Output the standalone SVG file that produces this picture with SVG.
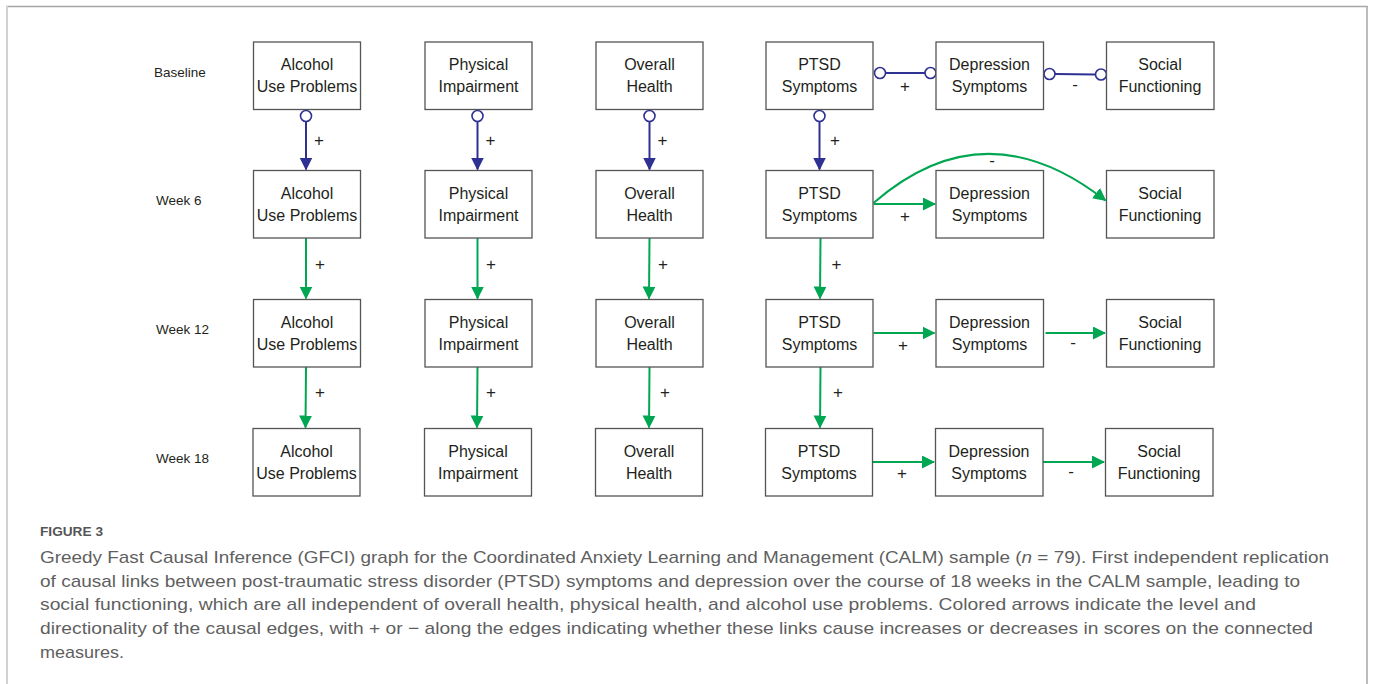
<svg xmlns="http://www.w3.org/2000/svg" width="1373" height="684" viewBox="0 0 1373 684">
<style>
.box{fill:#fff;stroke:#555;stroke-width:1.3}
.nt{font-family:"Liberation Sans",Arial,sans-serif;font-size:16px;fill:#231f20;text-anchor:middle}
.rl{font-family:"Liberation Sans",Arial,sans-serif;font-size:13.5px;fill:#231f20}
.lb{font-family:"Liberation Sans",Arial,sans-serif;font-size:17px;fill:#231f20;text-anchor:middle}
.g{fill:none;stroke:#00a651;stroke-width:2}
.b{fill:none;stroke:#2e3192;stroke-width:2}
.oc{fill:#fff;stroke:#2e3192;stroke-width:1.6}
.cap{font-family:"Liberation Sans",Arial,sans-serif;font-size:17px;fill:#5f5f5f}
.fig{font-family:"Liberation Sans",Arial,sans-serif;font-size:13px;font-weight:bold;fill:#555}
</style>
<defs>
<marker id="ag" markerUnits="userSpaceOnUse" markerWidth="14" markerHeight="14" viewBox="0 0 14 14" refX="12" refY="6.5" orient="auto"><path d="M0,0 L13,6.5 L0,13 z" fill="#00a651"/></marker>
<marker id="ab" markerUnits="userSpaceOnUse" markerWidth="14" markerHeight="14" viewBox="0 0 14 14" refX="12" refY="6.5" orient="auto"><path d="M0,0 L13,6.5 L0,13 z" fill="#2e3192"/></marker>
</defs>
<rect width="1373" height="684" fill="#fff"/>
<g id="frame">
<line x1="6" y1="6.5" x2="1367.5" y2="6.5" stroke="#a6a6a6" stroke-width="1.5"/>
<line x1="7" y1="6" x2="7" y2="684" stroke="#d2d2d2" stroke-width="2"/>
<line x1="1367" y1="6" x2="1367" y2="684" stroke="#a6a6a6" stroke-width="1.5"/>
</g>
<g id="row-labels">
<text class="rl" x="154" y="76.5">Baseline</text>
<text class="rl" x="156" y="205">Week 6</text>
<text class="rl" x="156" y="334">Week 12</text>
<text class="rl" x="156" y="462.5">Week 18</text>
</g>
<g id="connectors">
<line class="b" x1="306" y1="121.5" x2="306" y2="169.5" marker-end="url(#ab)"/>
<circle class="oc" cx="306" cy="116" r="5.5"/>
<line class="b" x1="477.5" y1="121.5" x2="477.5" y2="169.5" marker-end="url(#ab)"/>
<circle class="oc" cx="477.5" cy="116" r="5.5"/>
<line class="b" x1="649.5" y1="121.5" x2="649.5" y2="169.5" marker-end="url(#ab)"/>
<circle class="oc" cx="649.5" cy="116" r="5.5"/>
<line class="b" x1="819.5" y1="121.5" x2="819.5" y2="169.5" marker-end="url(#ab)"/>
<circle class="oc" cx="819.5" cy="116" r="5.5"/>
<text class="lb" x="319" y="146">+</text>
<text class="lb" x="490.5" y="146">+</text>
<text class="lb" x="662.5" y="146">+</text>
<text class="lb" x="835" y="146">+</text>
<line class="b" x1="885.5" y1="73" x2="925" y2="73"/>
<circle class="oc" cx="880" cy="73" r="5.5"/>
<circle class="oc" cx="930.5" cy="73" r="5.5"/>
<text class="lb" x="905" y="92">+</text>
<line class="b" x1="1055" y1="74" x2="1095.5" y2="74.5"/>
<circle class="oc" cx="1049.5" cy="74" r="5.5"/>
<circle class="oc" cx="1101" cy="74.5" r="5.5"/>
<text class="lb" x="1075" y="90">-</text>
<line class="g" x1="306" y1="238" x2="306" y2="298.5" marker-end="url(#ag)"/>
<line class="g" x1="477.5" y1="238" x2="477.5" y2="298.5" marker-end="url(#ag)"/>
<line class="g" x1="649.5" y1="238" x2="649" y2="298.5" marker-end="url(#ag)"/>
<line class="g" x1="820.5" y1="238" x2="820" y2="298.5" marker-end="url(#ag)"/>
<text class="lb" x="320" y="270">+</text>
<text class="lb" x="491" y="270">+</text>
<text class="lb" x="663" y="270">+</text>
<text class="lb" x="836.5" y="270">+</text>
<line class="g" x1="306" y1="367" x2="305.5" y2="427.5" marker-end="url(#ag)"/>
<line class="g" x1="477.5" y1="367" x2="477" y2="427.5" marker-end="url(#ag)"/>
<line class="g" x1="649.5" y1="367" x2="649" y2="427.5" marker-end="url(#ag)"/>
<line class="g" x1="820.5" y1="367" x2="820" y2="427.5" marker-end="url(#ag)"/>
<text class="lb" x="320" y="398">+</text>
<text class="lb" x="491" y="398">+</text>
<text class="lb" x="665" y="398">+</text>
<text class="lb" x="838" y="398">+</text>
<line class="g" x1="873.5" y1="204" x2="935" y2="204" marker-end="url(#ag)"/>
<text class="lb" x="905" y="222">+</text>
<path class="g" d="M873.5,203 Q985,106 1105.5,200.5" marker-end="url(#ag)"/>
<text class="lb" x="992" y="166">-</text>
<line class="g" x1="873.5" y1="333" x2="934.5" y2="333" marker-end="url(#ag)"/>
<text class="lb" x="903" y="351">+</text>
<line class="g" x1="1045.5" y1="333" x2="1105" y2="333" marker-end="url(#ag)"/>
<text class="lb" x="1073" y="348">-</text>
<line class="g" x1="872.5" y1="462" x2="934" y2="462" marker-end="url(#ag)"/>
<text class="lb" x="902" y="479">+</text>
<line class="g" x1="1043" y1="462" x2="1104" y2="462" marker-end="url(#ag)"/>
<text class="lb" x="1071" y="477">-</text>
</g>
<g id="n-alc-0"><rect class="box" x="253.5" y="42" width="107" height="67.5"/><text class="nt" x="307" y="70">Alcohol</text><text class="nt" x="307" y="92">Use Problems</text></g>
<g id="n-phy-0"><rect class="box" x="425" y="42" width="107" height="67.5"/><text class="nt" x="478.5" y="70">Physical</text><text class="nt" x="478.5" y="92">Impairment</text></g>
<g id="n-ovh-0"><rect class="box" x="596" y="42" width="107" height="67.5"/><text class="nt" x="649.5" y="70">Overall</text><text class="nt" x="649.5" y="92">Health</text></g>
<g id="n-ptsd-0"><rect class="box" x="766" y="42" width="107" height="67.5"/><text class="nt" x="819.5" y="70">PTSD</text><text class="nt" x="819.5" y="92">Symptoms</text></g>
<g id="n-dep-0"><rect class="box" x="936" y="42" width="107.5" height="67.5"/><text class="nt" x="989.5" y="70">Depression</text><text class="nt" x="989.5" y="92">Symptoms</text></g>
<g id="n-soc-0"><rect class="box" x="1106.5" y="42" width="107.5" height="67.5"/><text class="nt" x="1160" y="70">Social</text><text class="nt" x="1160" y="92">Functioning</text></g>
<g id="n-alc-6"><rect class="box" x="253.5" y="170.5" width="107" height="67.5"/><text class="nt" x="307" y="198.5">Alcohol</text><text class="nt" x="307" y="220.5">Use Problems</text></g>
<g id="n-phy-6"><rect class="box" x="425" y="170.5" width="107" height="67.5"/><text class="nt" x="478.5" y="198.5">Physical</text><text class="nt" x="478.5" y="220.5">Impairment</text></g>
<g id="n-ovh-6"><rect class="box" x="596" y="170.5" width="107" height="67.5"/><text class="nt" x="649.5" y="198.5">Overall</text><text class="nt" x="649.5" y="220.5">Health</text></g>
<g id="n-ptsd-6"><rect class="box" x="766" y="170.5" width="107" height="67.5"/><text class="nt" x="819.5" y="198.5">PTSD</text><text class="nt" x="819.5" y="220.5">Symptoms</text></g>
<g id="n-dep-6"><rect class="box" x="936" y="170.5" width="107.5" height="67.5"/><text class="nt" x="989.5" y="198.5">Depression</text><text class="nt" x="989.5" y="220.5">Symptoms</text></g>
<g id="n-soc-6"><rect class="box" x="1106.5" y="170.5" width="107.5" height="67.5"/><text class="nt" x="1160" y="198.5">Social</text><text class="nt" x="1160" y="220.5">Functioning</text></g>
<g id="n-alc-12"><rect class="box" x="253.5" y="299.5" width="107" height="67.5"/><text class="nt" x="307" y="327.5">Alcohol</text><text class="nt" x="307" y="349.5">Use Problems</text></g>
<g id="n-phy-12"><rect class="box" x="425" y="299.5" width="107" height="67.5"/><text class="nt" x="478.5" y="327.5">Physical</text><text class="nt" x="478.5" y="349.5">Impairment</text></g>
<g id="n-ovh-12"><rect class="box" x="596" y="299.5" width="107" height="67.5"/><text class="nt" x="649.5" y="327.5">Overall</text><text class="nt" x="649.5" y="349.5">Health</text></g>
<g id="n-ptsd-12"><rect class="box" x="766" y="299.5" width="107" height="67.5"/><text class="nt" x="819.5" y="327.5">PTSD</text><text class="nt" x="819.5" y="349.5">Symptoms</text></g>
<g id="n-dep-12"><rect class="box" x="936" y="299.5" width="107.5" height="67.5"/><text class="nt" x="989.5" y="327.5">Depression</text><text class="nt" x="989.5" y="349.5">Symptoms</text></g>
<g id="n-soc-12"><rect class="box" x="1106.5" y="299.5" width="107.5" height="67.5"/><text class="nt" x="1160" y="327.5">Social</text><text class="nt" x="1160" y="349.5">Functioning</text></g>
<g id="n-alc-18"><rect class="box" x="253" y="428.5" width="107" height="67.5"/><text class="nt" x="306.5" y="456.5">Alcohol</text><text class="nt" x="306.5" y="478.5">Use Problems</text></g>
<g id="n-phy-18"><rect class="box" x="424.5" y="428.5" width="107" height="67.5"/><text class="nt" x="478" y="456.5">Physical</text><text class="nt" x="478" y="478.5">Impairment</text></g>
<g id="n-ovh-18"><rect class="box" x="595.5" y="428.5" width="107" height="67.5"/><text class="nt" x="649" y="456.5">Overall</text><text class="nt" x="649" y="478.5">Health</text></g>
<g id="n-ptsd-18"><rect class="box" x="765.5" y="428.5" width="107" height="67.5"/><text class="nt" x="819" y="456.5">PTSD</text><text class="nt" x="819" y="478.5">Symptoms</text></g>
<g id="n-dep-18"><rect class="box" x="935.5" y="428.5" width="107.5" height="67.5"/><text class="nt" x="989" y="456.5">Depression</text><text class="nt" x="989" y="478.5">Symptoms</text></g>
<g id="n-soc-18"><rect class="box" x="1105.5" y="428.5" width="107.5" height="67.5"/><text class="nt" x="1159" y="456.5">Social</text><text class="nt" x="1159" y="478.5">Functioning</text></g>
<g id="caption">
<text class="fig" x="40" y="536" textLength="63" lengthAdjust="spacingAndGlyphs">FIGURE 3</text>
<text class="cap" x="40" y="563" textLength="1289" lengthAdjust="spacingAndGlyphs">Greedy Fast Causal Inference (GFCI) graph for the Coordinated Anxiety Learning and Management (CALM) sample (<tspan font-style="italic">n</tspan> = 79). First independent replication</text>
<text class="cap" x="40" y="586.5" textLength="1260" lengthAdjust="spacingAndGlyphs">of causal links between post-traumatic stress disorder (PTSD) symptoms and depression over the course of 18 weeks in the CALM sample, leading to</text>
<text class="cap" x="40" y="610" textLength="1216" lengthAdjust="spacingAndGlyphs">social functioning, which are all independent of overall health, physical health, and alcohol use problems. Colored arrows indicate the level and</text>
<text class="cap" x="40" y="634" textLength="1273" lengthAdjust="spacingAndGlyphs">directionality of the causal edges, with + or − along the edges indicating whether these links cause increases or decreases in scores on the connected</text>
<text class="cap" x="40" y="658" textLength="84" lengthAdjust="spacingAndGlyphs">measures.</text>
</g>
</svg>
